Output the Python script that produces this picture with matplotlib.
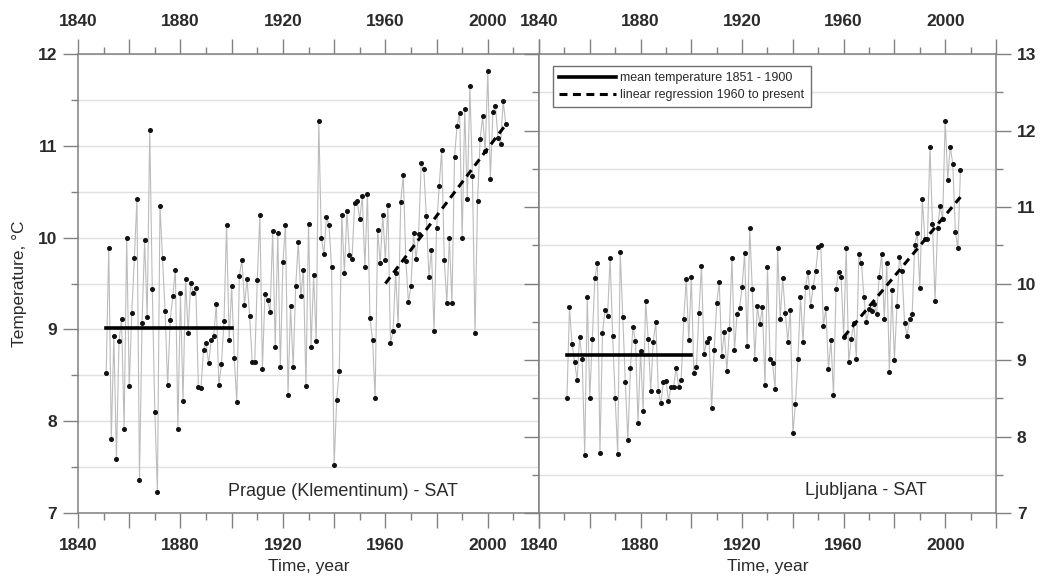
import numpy as np
import matplotlib
matplotlib.use('Agg')
import matplotlib.pyplot as plt
from matplotlib.ticker import MultipleLocator, FuncFormatter

plt.rcParams['font.family'] = ['Liberation Sans', 'DejaVu Sans']
plt.rcParams['font.weight'] = 'bold'

# annual mean surface air temperature
years_prague = np.arange(1851, 2008)
temp_prague = [
    8.53, 9.89, 7.81, 8.93, 7.59, 8.87, 9.11, 7.92, 10.0, 8.38,
    9.18, 9.78, 10.42, 7.36, 9.07, 9.97, 9.14, 11.17, 9.44, 8.10,
    7.23, 10.35, 9.78, 9.2, 8.39, 9.1, 9.36, 9.65, 7.92, 9.4,
    8.22, 9.55, 8.96, 9.51, 9.4, 9.45, 8.37, 8.36, 8.78, 8.85,
    8.63, 8.89, 8.93, 9.28, 8.39, 8.62, 9.09, 10.14, 8.88, 9.47,
    8.69, 8.21, 9.58, 9.76, 9.27, 9.55, 9.15, 8.65, 8.65, 9.54,
    10.25, 8.57, 9.39, 9.32, 9.19, 10.07, 8.81, 10.05, 8.59, 9.73,
    10.14, 8.29, 9.25, 8.59, 9.47, 9.95, 9.36, 9.65, 8.38, 10.15,
    8.81, 9.59, 8.87, 11.27, 10.0, 9.82, 10.22, 10.14, 9.68, 7.52,
    8.23, 8.55, 10.25, 9.61, 10.29, 9.81, 9.77, 10.38, 10.4, 10.2,
    10.45, 9.68, 10.48, 9.12, 8.89, 8.25,
    10.08, 9.72, 10.25, 9.76, 10.36, 8.85, 8.98, 9.62, 9.05, 10.39,
    10.68, 9.75, 9.3, 9.47, 10.05, 9.77, 10.04, 10.81, 10.75, 10.24,
    9.57, 9.87, 8.98, 10.1, 10.56, 10.95, 9.76, 9.29, 10.0, 9.29,
    10.88, 11.22, 11.36, 10.0, 11.4, 10.42, 11.65, 10.67, 8.96, 10.4,
    11.07, 11.32, 10.94, 11.81, 10.64, 11.37, 11.43, 11.08, 11.02, 11.49, 11.24,
]

years_ljubljana = np.arange(1851, 2007)
temp_ljubljana = [
    8.5, 9.69, 9.21, 8.97, 8.74, 9.3, 9.02, 7.76, 9.83, 8.5,
    9.28, 10.07, 10.27, 7.79, 9.35, 9.65, 9.58, 10.34, 9.32, 8.5,
    7.77, 10.41, 9.56, 8.71, 7.95, 8.89, 9.43, 9.25, 8.18, 9.12,
    8.34, 9.77, 9.28, 8.6, 9.24, 9.5, 8.59, 8.44, 8.71, 8.73,
    8.47, 8.65, 8.65, 8.9, 8.65, 8.74, 9.53, 10.06, 9.26, 10.08,
    8.83, 8.91, 9.62, 10.23, 9.08, 9.24,
    9.29, 8.37, 9.13, 9.75, 10.02, 9.05, 9.37, 8.86, 9.41, 10.34,
    9.13, 9.6, 9.68, 9.95, 10.4, 9.19, 10.73, 9.93, 9.02, 9.7,
    9.47, 9.69, 8.68, 10.22, 9.02, 8.96, 8.62, 10.46, 9.54, 10.07,
    9.62, 9.24, 9.66, 8.04, 8.42, 9.02, 9.82, 9.24, 9.96, 10.15,
    9.7, 9.96, 10.17, 10.48, 10.51, 9.44, 9.68, 8.88, 9.26, 8.54,
    9.93, 10.15, 10.09, 9.3, 10.47, 8.97, 9.28, 9.48, 9.02, 10.38,
    10.27, 9.83, 9.5, 9.67, 9.64, 9.73, 9.6, 10.09, 10.39, 9.54,
    10.27, 8.85, 9.91, 9.0, 9.71, 10.35, 10.16, 9.48, 9.32, 9.53,
    9.6, 10.51, 10.66, 9.94, 11.1, 10.58, 10.58, 11.79, 10.78, 9.77,
    10.73, 11.01, 10.84, 12.13, 11.36, 11.79, 11.56, 10.68, 10.46, 11.48,
]

mean_years = [1851, 1900]
mean_prague = 9.02
mean_ljubljana = 9.07

reg_years_prague = [1960, 2007]
reg_prague = [9.5, 11.23]
reg_years_ljubljana = [1960, 2006]
reg_ljubljana = [9.3, 11.13]

year_ticks = np.arange(1840, 2021, 20)

GREY = '#808080'
TXT = '#2a2a2a'

fig = plt.figure(figsize=(10.43, 5.83), dpi=100)
ax1 = fig.add_axes([0.0748, 0.12, 0.442, 0.7873])
ax2 = fig.add_axes([0.5168, 0.12, 0.4381, 0.7873])


def year_label(v, pos):
    v = int(round(v))
    return str(v) if v % 40 == 0 and v < 2020 else ''


def style(ax, ylim):
    ax.set_xlim(1840, 2020)
    ax.set_ylim(*ylim)
    ax.xaxis.set_major_locator(plt.FixedLocator(year_ticks))
    ax.xaxis.set_major_formatter(FuncFormatter(year_label))
    ax.xaxis.set_minor_locator(MultipleLocator(10))
    ax.yaxis.set_major_locator(MultipleLocator(1))
    ax.yaxis.set_minor_locator(MultipleLocator(0.5))
    ax.yaxis.grid(True, which='both', color='#e0e0e0', lw=1.0, zorder=0)
    ax.set_axisbelow(True)
    for s in ax.spines.values():
        s.set_color(GREY)
        s.set_linewidth(1.1)
    ax.tick_params(axis='both', which='both', direction='out', color=GREY,
                   width=1.0, labelcolor=TXT, labelsize=12.5)
    ax.tick_params(axis='x', which='both', top=True, bottom=True,
                   labeltop=True, labelbottom=True)
    ax.tick_params(axis='x', which='major', length=11, pad=7)
    ax.tick_params(axis='x', which='minor', length=5)
    ax.tick_params(axis='y', which='major', length=11, pad=4)
    ax.tick_params(axis='y', which='minor', length=5)
    ax.set_xlabel('Time, year', fontsize=12.5, fontweight='normal',
                  color=TXT, labelpad=4)


def draw(ax, x, y):
    ax.plot(x, y, color='#bcbcbc', lw=0.8, zorder=2)
    ax.plot(x, y, ls='none', marker='o', ms=2.6, mfc='#111111',
            mec='#111111', zorder=3)


style(ax1, (7, 12))
style(ax2, (7, 13))

ax1.tick_params(axis='y', which='both', left=True, right=False,
                labelleft=True, labelright=False)
ax2.tick_params(axis='y', which='both', left=True, right=True,
                labelleft=False, labelright=True)

draw(ax1, years_prague, temp_prague)
ax1.plot(mean_years, [mean_prague] * 2, color='black', lw=2.6, zorder=4)
ax1.plot(reg_years_prague, reg_prague, color='black', lw=2.2,
         ls=(0, (2.6, 1.8)), zorder=4)
ax1.set_ylabel('Temperature, \u00b0C', fontsize=12.5, fontweight='normal',
               color=TXT, labelpad=8)
ax1.text(1898.6, 7.24, 'Prague (Klementinum) - SAT', fontsize=13,
         fontweight='normal', color=TXT, ha='left', va='center')

draw(ax2, years_ljubljana, temp_ljubljana)
l_mean, = ax2.plot(mean_years, [mean_ljubljana] * 2, color='black', lw=2.6,
                   zorder=4)
l_reg, = ax2.plot(reg_years_ljubljana, reg_ljubljana, color='black', lw=2.2,
                  ls=(0, (2.6, 1.8)), zorder=4)
ax2.text(1944.7, 7.3, 'Ljubljana - SAT', fontsize=13, fontweight='normal',
         color=TXT, ha='left', va='center')

leg = ax2.legend([l_mean, l_reg],
                 ['mean temperature 1851 - 1900',
                  'linear regression 1960 to present'],
                 loc='upper left', bbox_to_anchor=(0.03, 0.974),
                 frameon=True, fancybox=False, framealpha=1,
                 edgecolor='#707070', handlelength=4.6, handletextpad=0.3,
                 borderpad=0.5, labelspacing=0.4, borderaxespad=0,
                 prop={'family': ['Liberation Sans Narrow', 'Liberation Sans'],
                       'size': 9, 'weight': 'normal'})
leg.get_frame().set_linewidth(1.0)
for t in leg.get_texts():
    t.set_color(TXT)

fig.savefig('out.png', dpi=100)
